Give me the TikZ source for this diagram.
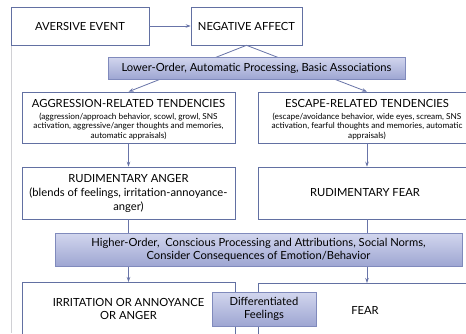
\documentclass[tikz,border=0pt]{standalone}
\usepackage{fontspec}
\setmainfont{Lato}
\usepackage{tikz}
\usetikzlibrary{arrows.meta, shadows}

\definecolor{boxline}{RGB}{98,112,162}
\definecolor{arrowline}{RGB}{104,116,168}
\definecolor{bandtop}{RGB}{210,214,238}
\definecolor{bandbottom}{RGB}{158,166,210}
\definecolor{bandline}{RGB}{128,138,188}
\definecolor{frameline}{RGB}{208,208,212}

\newcommand{\smalltxt}{\fontsize{8.25}{9.7}\selectfont}

\begin{document}
\begin{tikzpicture}[
                x=1pt, y=-1pt,
                >={Stealth[length=5pt, width=3.5pt]},
                font=\fontsize{11.2}{14}\selectfont,
                box/.style={rectangle, draw=boxline, line width=0.6pt, fill=white, align=center, inner sep=2pt},
                band/.style={rectangle, draw=bandline, line width=0.5pt, top color=bandtop, bottom color=bandbottom, align=center, inner sep=2pt, drop shadow={shadow xshift=1.2pt, shadow yshift=-1.2pt, opacity=0.35}},
                line/.style={draw=arrowline, line width=0.8pt, ->}
            ]
                \useasboundingbox (0,0) rectangle (466,333);
                \fill[white] (0,0) rectangle (466,333);

                % --- RAHMEN ---
                \coordinate (frametop) at (11,45);
                \coordinate (framebottom) at (11,333);
                \draw[frameline, line width=0.6pt] (frametop) -- (framebottom);

                % --- OBERE REIHE ---
                \node[box, minimum width=138, minimum height=38] (aversive) at (80,26) {AVERSIVE EVENT};
                \node[box, minimum width=111, minimum height=38] (negaffect) at (246.5,26) {NEGATIVE AFFECT};

                % --- TENDENZEN ---
                \node[box, minimum width=213, minimum height=51] (aggress) at (128.5,117.5) {};
                \node[align=center] (aggtext) at (128.5,119.5) {AGGRESSION-RELATED TENDENCIES\\[-2pt]
                    \smalltxt (aggression/approach behavior, scowl, growl, SNS\\[-4.3pt]
                    \smalltxt activation, aggressive/anger thoughts and memories,\\[-4.3pt]
                    \smalltxt automatic appraisals)};
                \node[box, minimum width=218, minimum height=51] (escape) at (367,117.5) {};
                \node[align=center] (esctext) at (367,119.5) {ESCAPE-RELATED TENDENCIES\\[-2pt]
                    \smalltxt (escape/avoidance behavior, wide eyes, scream, SNS\\[-4.3pt]
                    \smalltxt activation, fearful thoughts and memories, automatic\\[-4.3pt]
                    \smalltxt appraisals)};

                % --- RUDIMENTAER ---
                \node[box, minimum width=213, minimum height=52] (rudanger) at (128.5,193) {};
                \node[align=center] (rudangertext) at (128.5,193) {RUDIMENTARY ANGER\\[0pt]
                    (blends of feelings, irritation-annoyance-\\anger)};
                \node[box, minimum width=218, minimum height=52] (rudfear) at (367,193) {};
                \node (rudfeartext) at (365,193) {RUDIMENTARY FEAR};

                % --- DIFFERENZIERT ---
                \node[box, minimum width=213, minimum height=68, anchor=north] (irritation) at (128.5,282) {};
                \node[box, minimum width=218, minimum height=68, anchor=north] (fear) at (367,283) {};
                \node[align=center] (irrtext) at (128.5,309) {IRRITATION OR ANNOYANCE\\[-1pt]OR ANGER};
                \node (feartext) at (365,310) {FEAR};

                % --- VERBINDUNGEN ---
                \draw[line] (aversive.east) -- (negaffect.west);
                \draw[line] (negaffect.south) -- (aggress.north);
                \draw[line] (negaffect.south) -- (escape.north);
                \draw[line] (aggress.south) -- (rudanger.north);
                \draw[line] (escape.south) -- (rudfear.north);
                \draw[line] (rudanger.south) -- (irritation.north);
                \draw[line] (rudfear.south) -- (fear.north);

                % --- VERARBEITUNG ---
                \node[band, minimum width=297, minimum height=22] (lower) at (256.5,68) {Lower-Order, Automatic Processing, Basic Associations};
                \node[band, minimum width=407, minimum height=33] (higher) at (258.5,249.5) {Higher-Order, \ Conscious Processing and Attributions, Social Norms,\\[-1pt]Consider Consequences of Emotion/Behavior};
                \node[band, minimum width=104, minimum height=34] (differ) at (264,309) {Differentiated\\[-1pt]Feelings};

            \end{tikzpicture}
\end{document}
